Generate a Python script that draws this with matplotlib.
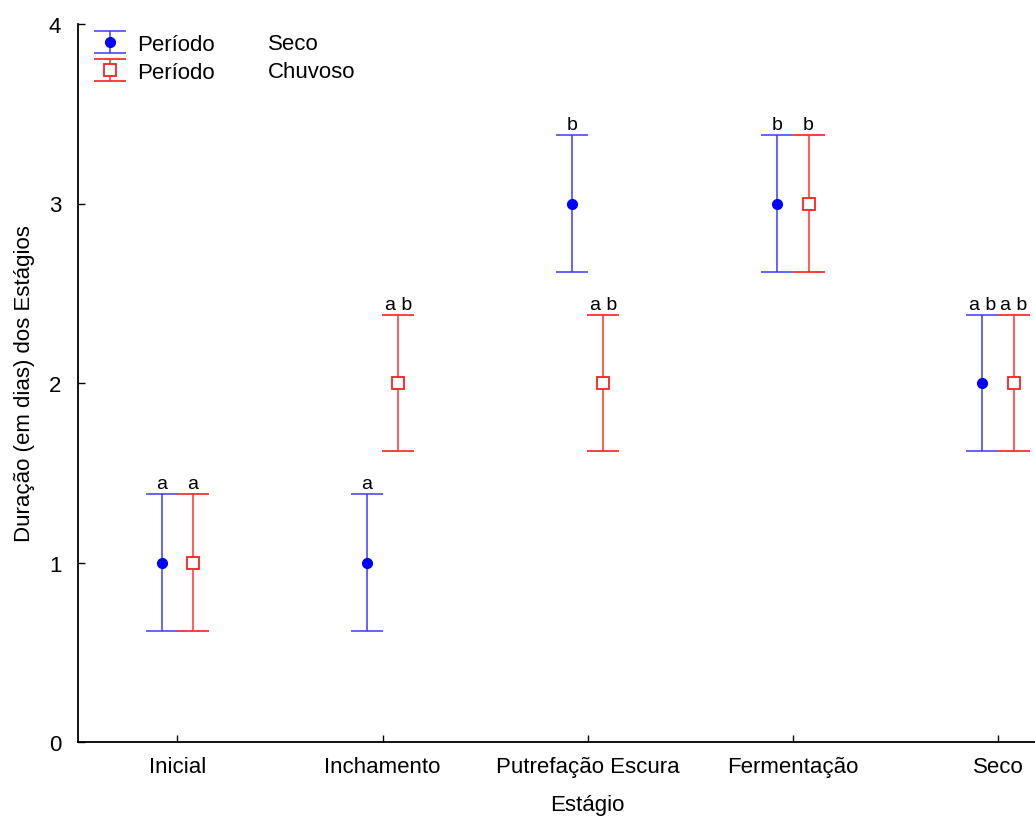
import matplotlib.pyplot as plt
import numpy as np

plt.rcParams['font.family'] = ['Liberation Sans', 'DejaVu Sans']

estagios = ["Inicial", "Inchamento", "Putrefação Escura", "Fermentação", "Seco"]
seco = [1, 1, 3, 3, 2]
chuvoso = [1, 2, 2, 3, 2]
erro_seco = [0.38, 0.38, 0.38, 0.38, 0.38]
erro_chuvoso = [0.38, 0.38, 0.38, 0.38, 0.38]
letras_seco = ["a", "a", "b", "b", "a b"]
letras_chuvoso = ["a", "a b", "a b", "b", "a b"]

fs = 16

fig = plt.figure(figsize=(10.35, 8.2), dpi=100)
ax = fig.add_axes([78 / 1035, 77 / 820, 1 - 78 / 1035, 718 / 820])

x = np.arange(len(estagios))
dx = 0.076

ax.errorbar(x - dx, seco, yerr=erro_seco, fmt='o', color='#0000ff', ecolor='#3a3aff',
            markersize=7, capsize=11.5, elinewidth=1.1, capthick=1.1, label='Período')
ax.errorbar(x + dx, chuvoso, yerr=erro_chuvoso, fmt='s', color='#ff2020', ecolor='#ff3030',
            markerfacecolor='white', markersize=8, markeredgewidth=1.3,
            capsize=11.5, elinewidth=1.1, capthick=1.1, label='Período')

# letras de significancia
for xi, yi, ei, t in zip(x - dx, seco, erro_seco, letras_seco):
    ax.text(xi, yi + ei + 0.01, t, ha='center', va='bottom', fontsize=14)
for xi, yi, ei, t in zip(x + dx, chuvoso, erro_chuvoso, letras_chuvoso):
    ax.text(xi, yi + ei + 0.01, t, ha='center', va='bottom', fontsize=14)

ax.set_xlim(-0.485, 4.18)
ax.set_ylim(0, 4)
ax.set_xticks(x)
ax.set_xticklabels(estagios, fontsize=fs)
ax.set_yticks([0, 1, 2, 3, 4])
ax.tick_params(axis='both', direction='in', length=5, labelsize=fs, width=1)
ax.tick_params(axis='x', pad=10)
ax.tick_params(axis='y', pad=12)
ax.spines['top'].set_visible(False)
ax.spines['right'].set_visible(False)
ax.spines['left'].set_linewidth(1.3)
ax.spines['bottom'].set_linewidth(1.3)

ax.set_xlabel("Estágio", fontsize=fs)
ax.xaxis.set_label_coords((587 - 78) / 957, -0.073)
ax.set_ylabel("Duração (em dias) dos Estágios", fontsize=fs)
ax.yaxis.set_label_coords(-0.045, 0.5)

leg = ax.legend(loc='upper left', bbox_to_anchor=(93 / 1035, 1 - 35 / 820),
                bbox_transform=fig.transFigure, frameon=False, fontsize=fs,
                handlelength=1.55, handletextpad=0.45, labelspacing=0.3,
                borderpad=0, borderaxespad=0)
fig.text(268 / 1035, 1 - 44 / 820, "Seco", fontsize=fs, va='center')
fig.text(268 / 1035, 1 - 73 / 820, "Chuvoso", fontsize=fs, va='center')

fig.savefig("out.png", dpi=100)
